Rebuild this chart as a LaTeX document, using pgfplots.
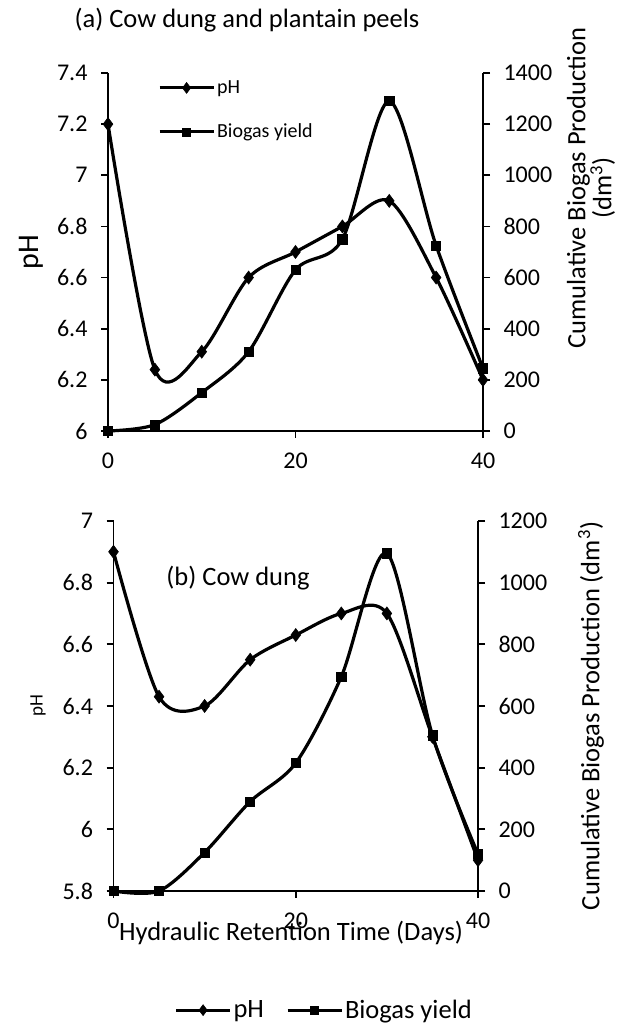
\documentclass[border=0pt]{standalone}
\usepackage{fontspec}
\setmainfont{Carlito}
\usepackage{pgfplots}
\pgfplotsset{compat=1.18}
\pgfplotstableread{
x ph gas
0 7.2 0
5 6.24 25
10 6.31 150
15 6.6 310
20 6.7 630
25 6.8 750
30 6.9 1290
35 6.6 725
40 6.2 245
}\dataA
\pgfplotstableread{
x ph gas
0 6.9 0
5 6.43 0
10 6.4 125
15 6.55 290
20 6.63 415
25 6.7 695
30 6.7 1095
35 6.3 505
40 5.9 120
}\dataB
\begin{document}
\begin{tikzpicture}
\path (0pt,0pt) rectangle (626pt,1025pt);
\pgfplotsset{
  base/.style={scale only axis, anchor=south west, xmin=0, xmax=40, xtick={0,20,40},
    tick align=outside, major tick length=7pt,
    tick style={black, line width=1.8pt},
    axis line style={black, line width=1.8pt},
    ticklabel style={font=\fontsize{24}{26}\selectfont},
    xticklabel style={yshift=-11pt},
    /pgf/number format/assume math mode=true,
    /pgf/number format/1000 sep={},
    clip=false,
    legend image code/.code={\draw[mark repeat=2,mark phase=2,##1] plot coordinates {(0pt,0pt) (27pt,0pt) (54pt,0pt)};}},
  leftax/.style={base, axis y line*=left, axis x line*=bottom, yticklabel style={xshift=-10pt}},
  rightax/.style={base, axis y line*=right, axis x line=none, yticklabel style={xshift=10pt}},
  phl/.style={black, line width=3.2pt, smooth, mark=diamond*, mark size=6.5pt, mark options={solid, line width=0.6pt}},
  gasl/.style={black, line width=3.2pt, smooth, mark=square*, mark size=4.6pt, mark options={solid, line width=0.6pt}},
  phleg/.style={black, line width=3pt, sharp plot, mark=diamond*, mark size=5.5pt, mark options={solid, line width=0.5pt}},
  gasleg/.style={black, line width=3pt, sharp plot, mark=square*, mark size=4pt, mark options={solid, line width=0.5pt}},
}
% ---------- panel (a)
\begin{axis}[leftax, at={(108pt,594pt)}, width=375pt, height=358pt,
  ymin=6, ymax=7.4, ytick={6,6.2,6.4,6.6,6.8,7,7.2,7.4}]
\addplot[phl] table[x=x,y=ph]{\dataA};
\end{axis}
\begin{axis}[rightax, at={(108pt,594pt)}, width=375pt, height=358pt,
  ymin=0, ymax=1400, ytick={0,200,...,1400},
  legend style={draw=none, fill=none, at={(0.125,0.99)}, anchor=north west,
    font=\fontsize{20}{22}\selectfont, row sep=25pt},
  legend cell align=left]
\addlegendimage{phleg}
\addlegendentry{pH}
\addlegendimage{gasleg}
\addlegendentry{Biogas yield}
\addplot[gasl, forget plot] table[x=x,y=gas]{\dataA};
\end{axis}
% ---------- panel (b)
\begin{axis}[leftax, at={(113.5pt,134pt)}, width=364.5pt, height=370pt,
  ymin=5.8, ymax=7, ytick={5.8,6,6.2,6.4,6.6,6.8,7}]
\addplot[phl] table[x=x,y=ph]{\dataB};
\end{axis}
\begin{axis}[rightax, at={(113.5pt,134pt)}, width=364.5pt, height=370pt,
  ymin=0, ymax=1200, ytick={0,200,...,1200},
  legend style={draw=none, fill=none, at={(0.578,-0.322)}, anchor=center,
    font=\fontsize{26.5}{28}\selectfont, /tikz/every even column/.append style={column sep=20pt}},
  legend columns=2]
\addlegendimage{phleg}
\addlegendentry{pH}
\addlegendimage{gasleg}
\addlegendentry{Biogas yield}
\addplot[gasl, forget plot] table[x=x,y=gas]{\dataB};
\end{axis}
% ---------- labels
\node[font=\fontsize{26.5}{28}\selectfont] at (247pt,1005pt) {(a) Cow dung and plantain peels};
\node[rotate=90, font=\fontsize{30}{32}\selectfont] at (31pt,773pt) {pH};
\node[rotate=90, align=center, font=\fontsize{26.5}{26}\selectfont] at (591pt,837pt) {Cumulative Biogas Production\\(dm\textsuperscript{3})};
\node[rotate=90, font=\fontsize{19}{21}\selectfont] at (38pt,319pt) {pH};
\node[rotate=90, font=\fontsize{26.5}{28}\selectfont] at (591pt,309pt) {Cumulative Biogas Production (dm\textsuperscript{3})};
\node[font=\fontsize{26.5}{28}\selectfont] at (291pt,92pt) {Hydraulic Retention Time (Days)};
\node[font=\fontsize{26.5}{28}\selectfont] at (238pt,447pt) {(b) Cow dung};
\end{tikzpicture}
\end{document}
